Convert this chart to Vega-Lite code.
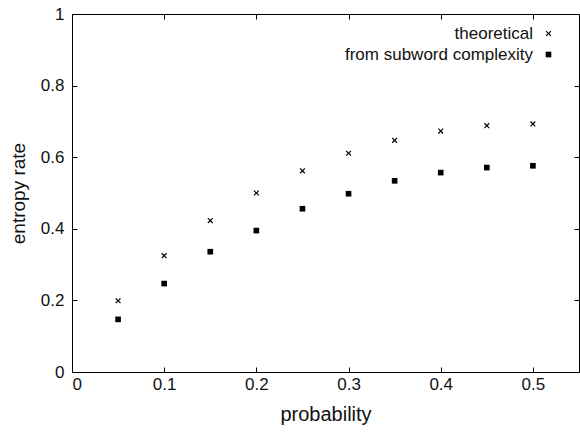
{
  "$schema": "https://vega.github.io/schema/vega-lite/v6.json",
  "autosize": "none",
  "width": 507,
  "height": 358,
  "padding": {"left": 72, "top": 14, "right": 1, "bottom": 61},
  "background": "white",
  "config": {
    "font": "Liberation Sans",
    "view": {"stroke": "black", "strokeWidth": 1},
    "axis": {"grid": false, "domain": false, "tickColor": "black", "tickSize": -5, "tickWidth": 1,
             "labelFont": "Liberation Sans", "labelFontSize": 17, "labelColor": "#111",
             "titleFont": "Liberation Sans", "titleFontSize": 19, "titleFontWeight": "normal", "titleColor": "#111"}
  },
  "data": {"values": [
    {"p": 0.05, "series": "theoretical", "v": 0.199},
    {"p": 0.10, "series": "theoretical", "v": 0.325},
    {"p": 0.15, "series": "theoretical", "v": 0.423},
    {"p": 0.20, "series": "theoretical", "v": 0.500},
    {"p": 0.25, "series": "theoretical", "v": 0.562},
    {"p": 0.30, "series": "theoretical", "v": 0.611},
    {"p": 0.35, "series": "theoretical", "v": 0.647},
    {"p": 0.40, "series": "theoretical", "v": 0.673},
    {"p": 0.45, "series": "theoretical", "v": 0.688},
    {"p": 0.50, "series": "theoretical", "v": 0.693},
    {"p": 0.05, "series": "from subword complexity", "v": 0.147},
    {"p": 0.10, "series": "from subword complexity", "v": 0.247},
    {"p": 0.15, "series": "from subword complexity", "v": 0.336},
    {"p": 0.20, "series": "from subword complexity", "v": 0.395},
    {"p": 0.25, "series": "from subword complexity", "v": 0.456},
    {"p": 0.30, "series": "from subword complexity", "v": 0.498},
    {"p": 0.35, "series": "from subword complexity", "v": 0.534},
    {"p": 0.40, "series": "from subword complexity", "v": 0.557},
    {"p": 0.45, "series": "from subword complexity", "v": 0.571},
    {"p": 0.50, "series": "from subword complexity", "v": 0.576}
  ]},
  "resolve": {"axis": {"x": "independent", "y": "independent"}},
  "layer": [
    {
      "mark": {"type": "point", "filled": true, "fill": "black", "strokeWidth": 0, "opacity": 1, "size": 32},
      "encoding": {
        "x": {"field": "p", "type": "quantitative",
              "scale": {"domain": [0, 0.55], "nice": false, "zero": false},
              "axis": {"values": [0, 0.1, 0.2, 0.3, 0.4, 0.5], "format": ".1~f", "title": "probability", "titleFontSize": 20, "labelPadding": 9, "titlePadding": 12}},
        "y": {"field": "v", "type": "quantitative",
              "scale": {"domain": [0, 1], "nice": false},
              "axis": {"values": [0, 0.2, 0.4, 0.6, 0.8, 1], "format": ".1~f", "title": "entropy rate", "labelPadding": 13, "titlePadding": 12}},
        "shape": {"field": "series", "type": "nominal",
                  "scale": {"domain": ["theoretical", "from subword complexity"],
                            "range": ["M-1,-0.7L-0.7,-1L0,-0.3L0.7,-1L1,-0.7L0.3,0L1,0.7L0.7,1L0,0.3L-0.7,1L-1,0.7L-0.3,0Z", "square"]},
                  "legend": {"title": null, "orient": "none", "legendX": 468, "legendY": 11,
                             "labelAlign": "right", "labelOffset": -24, "labelLimit": 400,
                             "labelFontSize": 17, "labelFont": "Liberation Sans", "labelColor": "#111",
                             "symbolFillColor": "black", "symbolStrokeWidth": 0, "symbolSize": 32,
                             "rowPadding": 3,
                             "encode": {"symbols": {"update": {"fill": {"value": "black"}, "strokeWidth": {"value": 0}}}}}}
      }
    },
    {
      "mark": {"type": "point", "opacity": 0},
      "encoding": {
        "x": {"field": "p", "type": "quantitative",
              "axis": {"orient": "top", "values": [0, 0.1, 0.2, 0.3, 0.4, 0.5], "labels": false, "title": null}},
        "y": {"field": "v", "type": "quantitative",
              "axis": {"orient": "right", "values": [0, 0.2, 0.4, 0.6, 0.8, 1], "labels": false, "title": null}}
      }
    }
  ]
}
